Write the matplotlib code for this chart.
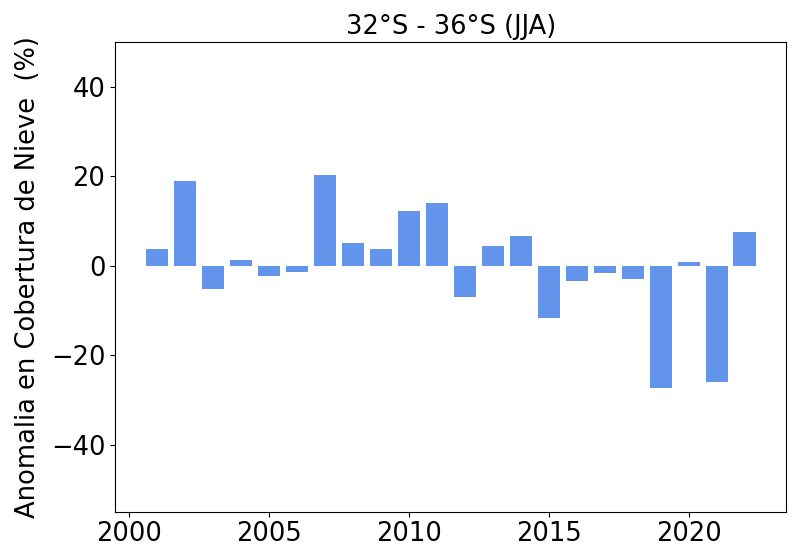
import matplotlib
matplotlib.use("Agg")
import matplotlib.pyplot as plt

# Anomalía de cobertura de nieve por año (JJA)
years = list(range(2001, 2023))
anomaly = [3.8, 18.9, -5.2, 1.3, -2.2, -1.4, 20.2, 5.0, 3.8, 12.2, 14.1,
           -6.9, 4.4, 6.6, -11.7, -3.4, -1.7, -3.0, -27.3, 0.8, -25.9, 7.5]

fig = plt.figure(figsize=(8, 5.6), dpi=100)
ax = fig.add_axes([0.144, 0.0863, 0.839, 0.8382])

ax.bar(years, anomaly, width=0.8, color='cornflowerblue')
ax.set_ylim(-55, 50)
ax.set_yticks([-40, -20, 0, 20, 40])
ax.set_xticks([2000, 2005, 2010, 2015, 2020])
ax.tick_params(labelsize=18.5)
ax.set_title('32°S - 36°S (JJA)', fontsize=18.5)
ax.set_ylabel('Anomalia en Cobertura de Nieve  (%)', fontsize=18.5, labelpad=7)

fig.savefig('out.png', dpi=100)
